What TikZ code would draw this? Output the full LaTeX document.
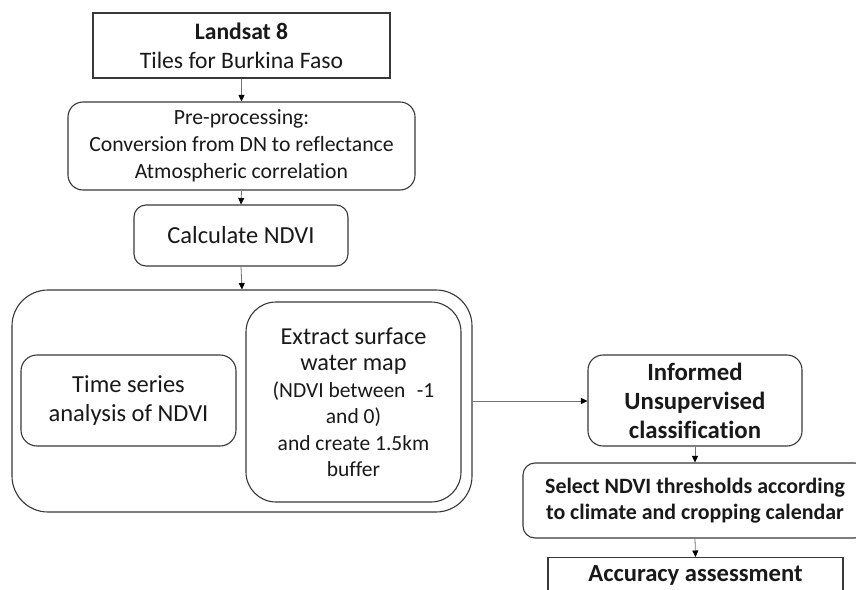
\documentclass[tikz,border=0pt]{standalone}
\usepackage{fontspec}
\setmainfont{Carlito}[Ligatures=NoCommon]
\usetikzlibrary{arrows.meta}
\newcommand{\fsz}[2]{\fontsize{#1}{#2}\selectfont}
\begin{document}
\begin{tikzpicture}[x=1pt,y=-1pt,
  box/.style={draw=black!78, line width=1.1pt, align=center, inner sep=0pt, text=black!90},
  conn/.style={draw=black!55, line width=0.8pt, -{Triangle[length=6.5pt,width=6pt,color=black]}},
]
\useasboundingbox (0,0) rectangle (856,589);
\clip (0,0) rectangle (856,589);
\fill[white] (0,0) rectangle (856,589);
\node[box, minimum width=297pt, minimum height=65pt, font={\fsz{23.6}{28.7}}] (land) at (241.5,45.5)
  {\textbf{Landsat 8}\\Tiles for Burkina Faso};
\node[box, rounded corners=15pt, minimum width=347pt, minimum height=88pt, font={\fsz{21.7}{27}}] (pre) at (241.5,146)
  {Pre-processing:\\Conversion from DN to reflectance\\Atmospheric correlation};
\node[box, rounded corners=12pt, minimum width=214pt, minimum height=61pt, font={\fsz{24.5}{29}}] (calc) at (241,235.5)
  {Calculate NDVI};
\node[box, rounded corners=36pt, minimum width=460pt, minimum height=222pt] (big) at (242,401) {};
\node[box, rounded corners=16pt, minimum width=215pt, minimum height=91pt, font={\fsz{24.5}{29}}] (time) at (128.5,400.5)
  {Time series\\analysis of NDVI};
\node[box, rounded corners=30pt, minimum width=215pt, minimum height=200pt, font={\fsz{21.5}{26.5}}] (ext) at (353.5,402)
  {{\fsz{24.3}{29.5}Extract surface}\\{\fsz{24.3}{29.5}water map}\\(NDVI between\hspace{0.3em} -1\\and 0)\\and create 1.5km\\buffer};
\node[box, rounded corners=15pt, minimum width=214pt, minimum height=91pt, font={\fsz{24.8}{29}\bfseries}] (inf) at (695,400.5)
  {Informed\\Unsupervised\\classification};
\node[box, rounded corners=12pt, minimum width=344pt, minimum height=75pt, font={\fsz{21.9}{26}\bfseries}] (sel) at (695,500.5)
  {Select NDVI thresholds according\\to climate and cropping calendar};
\node[box, minimum width=295pt, minimum height=60pt, anchor=north] (acc) at (695.5,557) {};
\node[anchor=north, inner sep=0pt, text=black!90, font={\fsz{24.6}{29}\bfseries}] (acct) at (695.5,565)
  {Accuracy assessment};
\draw[conn] (land.south) -- (pre.north);
\draw[conn] (pre.south) -- (calc.north);
\draw[conn] (calc.south) -- (big.north);
\draw[conn] (big.east) -- (big.east -| inf.west);
\draw[conn] (inf.south) -- (sel.north);
\draw[conn] (sel.south) -- (acc.north);
\end{tikzpicture}
\end{document}
